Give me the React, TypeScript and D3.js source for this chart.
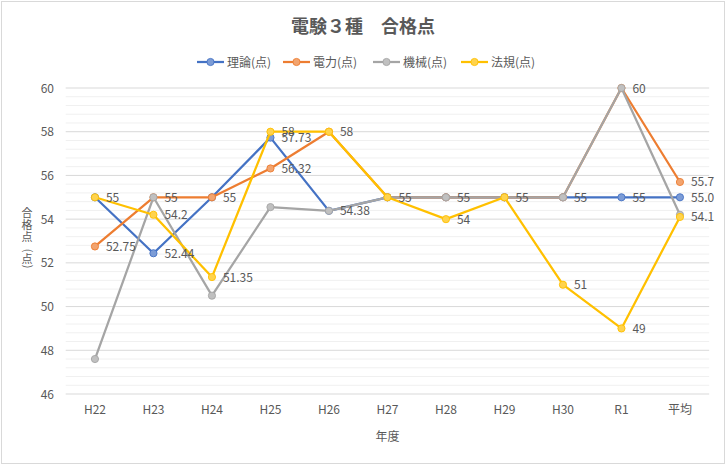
import React, { useEffect, useRef } from "react";
import * as d3 from "d3";

const categories = ["H22", "H23", "H24", "H25", "H26", "H27", "H28", "H29", "H30", "R1", "平均"];
const theory = [55, 52.44, 55, 57.73, 54.38, 55, 55, 55, 55, 55, 55.0];
const power = [52.75, 55, 55, 56.32, 58, 55, 55, 55, 55, 60, 55.7];
const machine = [47.6, 55, 50.5, 54.55, 54.38, 55, 55, 55, 55, 60, 54.2];
const law = [55, 54.2, 51.35, 58, 58, 55, 54, 55, 51, 49, 54.1];
const seriesNames = ["理論(点)", "電力(点)", "機械(点)", "法規(点)"];
const yTicks = [46, 48, 50, 52, 54, 56, 58, 60];

const W = 726;
const H = 465;
const FONT = "'Noto Sans CJK JP', 'Noto Sans', sans-serif";
const TEXT = "#595959";

function App() {
  const ref = useRef<HTMLDivElement | null>(null);

  useEffect(() => {
    document.body.style.margin = "0";
    const svg = d3
      .select(ref.current)
      .append("svg")
      .attr("width", W)
      .attr("height", H)
      .style("display", "block")
      .style("font-family", FONT);

    svg
      .append("rect")
      .attr("x", 1.5)
      .attr("y", 1.5)
      .attr("width", W - 3)
      .attr("height", H - 3)
      .attr("fill", "white")
      .attr("stroke", "#d9d9d9");

    const x = d3.scalePoint<string>().domain(categories).range([65.7, 709.2]).padding(0.5);
    const y = d3.scaleLinear().domain([46, 60]).range([394, 88]);

    // minor grid
    const minor = d3.range(46, 60.001, 0.4).filter((v) => Math.abs(v / 2 - Math.round(v / 2)) > 0.01);
    minor.forEach((v) =>
      svg
        .append("line")
        .attr("x1", 65.7)
        .attr("x2", 709.2)
        .attr("y1", y(v))
        .attr("y2", y(v))
        .attr("stroke", "#f0f0f0")
    );
    yTicks.forEach((t) => {
      svg
        .append("line")
        .attr("x1", 65.7)
        .attr("x2", 709.2)
        .attr("y1", y(t))
        .attr("y2", y(t))
        .attr("stroke", "#d9d9d9");
      svg
        .append("text")
        .attr("x", 54)
        .attr("y", y(t) + 4.5)
        .attr("text-anchor", "end")
        .attr("font-size", 12)
        .attr("fill", TEXT)
        .text(t.toString());
    });

    categories.forEach((c) =>
      svg
        .append("text")
        .attr("x", x(c)!)
        .attr("y", 414)
        .attr("text-anchor", "middle")
        .attr("font-size", 12)
        .attr("fill", TEXT)
        .text(c)
    );

    // axis titles
    svg
      .append("text")
      .attr("x", 387.5)
      .attr("y", 441)
      .attr("text-anchor", "middle")
      .attr("font-size", 12)
      .attr("fill", TEXT)
      .text("年度");

    // vertical y title 合格点(点): one text, CJK upright, parentheses turned 90°
    const yTitle = svg
      .append("text")
      .attr("fill", TEXT)
      .attr("font-size", 11)
      .attr("text-anchor", "start");
    [
      { ch: "合", cy: 213, rot: false },
      { ch: "格", cy: 225, rot: false },
      { ch: "点", cy: 237, rot: false },
      { ch: "(", cy: 250.5, rot: true },
      { ch: "点", cy: 258.5, rot: false },
      { ch: ")", cy: 266.5, rot: true },
    ].forEach((c) => {
      const t = yTitle.append("tspan").text(c.ch);
      if (c.rot) {
        t.attr("x", 27 - 3.3).attr("y", c.cy - 1.8).attr("rotate", 90);
      } else {
        t.attr("x", 27 - 5.5).attr("y", c.cy + 4.2);
      }
    });

    // title
    svg
      .append("text")
      .attr("x", 363)
      .attr("y", 33)
      .attr("text-anchor", "middle")
      .attr("font-size", 18)
      .attr("font-weight", "bold")
      .attr("fill", TEXT)
      .text("電験３種　合格点");

    const colors = ["#4472C4", "#ED7D31", "#A5A5A5", "#FFC000"];
    const allSeries = [theory, power, machine, law];
    const showLabels = [true, true, false, true];

    const line = d3
      .line<number>()
      .x((_, i) => x(categories[i])!)
      .y((d) => y(d));

    allSeries.forEach((s, k) => {
      const color = colors[k];
      const fill = d3.interpolateRgb(color, "white")(0.3);
      svg
        .append("path")
        .datum(s)
        .attr("d", line)
        .attr("fill", "none")
        .attr("stroke", color)
        .attr("stroke-width", 2.25)
        .attr("stroke-linejoin", "round");
      s.forEach((v, i) =>
        svg
          .append("circle")
          .attr("cx", x(categories[i])!)
          .attr("cy", y(v))
          .attr("r", 3.6)
          .attr("fill", fill)
          .attr("stroke", color)
          .attr("stroke-width", 0.9)
      );
    });

    // data labels (identical labels on the same spot drawn once)
    const seen = new Set<string>();
    allSeries.forEach((s, k) => {
      if (!showLabels[k]) return;
      s.forEach((v, i) => {
        const txt = i === categories.length - 1 ? v.toFixed(1) : v.toString();
        const key = `${i}|${txt}`;
        if (seen.has(key)) return;
        seen.add(key);
        svg
          .append("text")
          .attr("x", x(categories[i])! + 11)
          .attr("y", y(v) + 4.5)
          .attr("font-size", 12)
          .attr("fill", TEXT)
          .text(txt);
      });
    });

    // legend
    const legendX = [197, 283, 373, 461];
    seriesNames.forEach((name, k) => {
      const lx = legendX[k];
      const g = svg.append("g");
      g.append("line")
        .attr("x1", lx)
        .attr("x2", lx + 27)
        .attr("y1", 62)
        .attr("y2", 62)
        .attr("stroke", colors[k])
        .attr("stroke-width", 2.25);
      g.append("circle")
        .attr("cx", lx + 13.5)
        .attr("cy", 62)
        .attr("r", 3.6)
        .attr("fill", d3.interpolateRgb(colors[k], "white")(0.3))
        .attr("stroke", colors[k])
        .attr("stroke-width", 0.9);
      g.append("text")
        .attr("x", lx + 30)
        .attr("y", 66.5)
        .attr("font-size", 12)
        .attr("fill", TEXT)
        .text(name);
    });

    return () => {
      svg.selectAll("*").remove();
      svg.remove();
    };
  }, []);

  return <div ref={ref} />;
}
export default App;
